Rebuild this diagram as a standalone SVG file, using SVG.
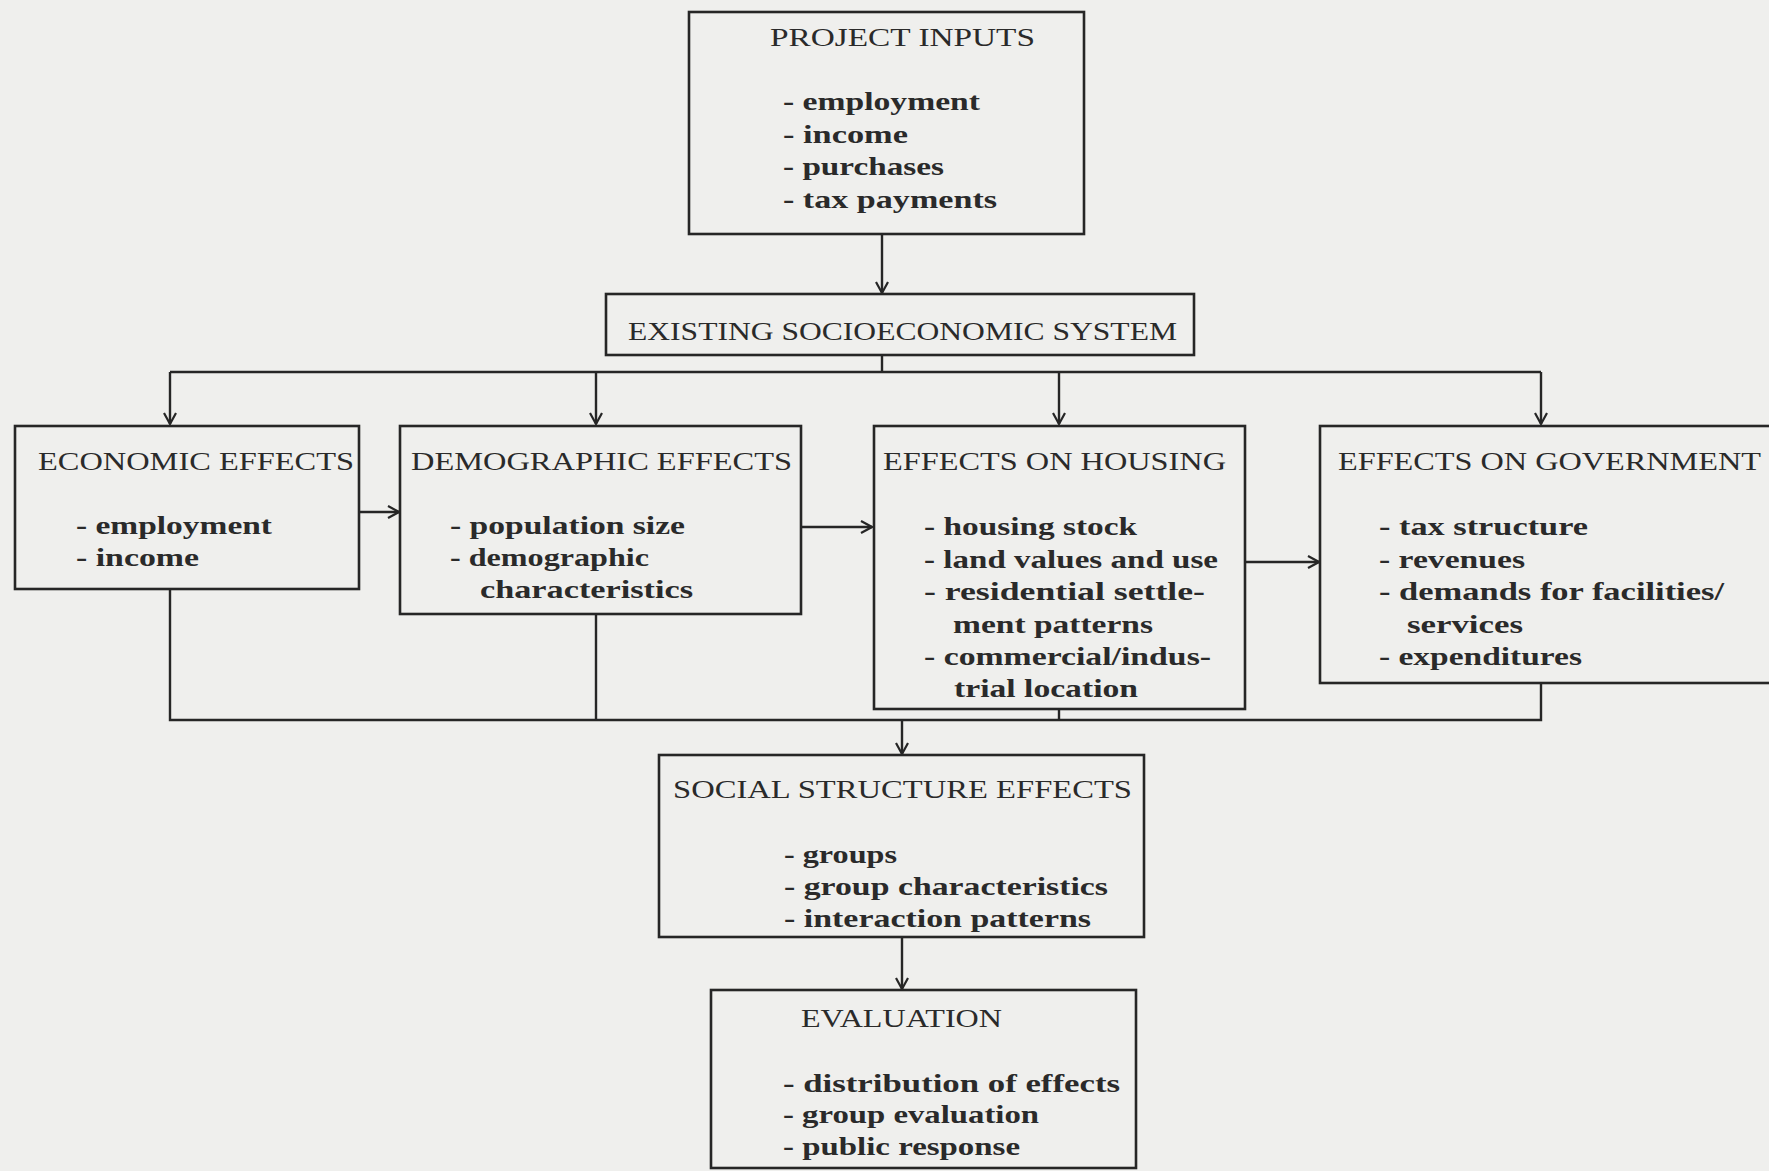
<svg xmlns="http://www.w3.org/2000/svg" width="1769" height="1171" viewBox="0 0 1769 1171">
<style>
  .bg{fill:#efefed}
  .box{fill:none;stroke:#262626;stroke-width:2.6}
  .ln{fill:none;stroke:#262626;stroke-width:2.4}
  .t{font-family:"Liberation Serif","Times New Roman",serif;font-size:26px;fill:#2a2a2a}
  .i{font-family:"Liberation Serif","Times New Roman",serif;font-size:25px;font-weight:bold;fill:#2a2a2a}
</style>
<defs>
  <marker id="arr" viewBox="0 0 14 14" refX="12" refY="7" markerWidth="14" markerHeight="14" markerUnits="userSpaceOnUse" orient="auto">
    <path d="M1,1 L12,7 L1,13" fill="none" stroke="#262626" stroke-width="2.2"/>
  </marker>
</defs>
<rect class="bg" x="0" y="0" width="1769" height="1171"/>

<g id="connectors">
  <line class="ln" x1="882" y1="234" x2="882" y2="293" marker-end="url(#arr)"/>
  <polyline class="ln" points="882,355 882,372"/>
  <polyline class="ln" points="170,372 1541,372"/>
  <line class="ln" x1="170" y1="372" x2="170" y2="424" marker-end="url(#arr)"/>
  <line class="ln" x1="596" y1="372" x2="596" y2="424" marker-end="url(#arr)"/>
  <line class="ln" x1="1059" y1="372" x2="1059" y2="424" marker-end="url(#arr)"/>
  <line class="ln" x1="1541" y1="372" x2="1541" y2="424" marker-end="url(#arr)"/>
  <line class="ln" x1="360" y1="512" x2="399" y2="512" marker-end="url(#arr)"/>
  <line class="ln" x1="801" y1="527" x2="872" y2="527" marker-end="url(#arr)"/>
  <line class="ln" x1="1245" y1="562" x2="1319" y2="562" marker-end="url(#arr)"/>
  <polyline class="ln" points="170,589 170,720 1541,720 1541,683"/>
  <line class="ln" x1="596" y1="614" x2="596" y2="720"/>
  <line class="ln" x1="1059" y1="709" x2="1059" y2="720"/>
  <line class="ln" x1="902" y1="720" x2="902" y2="754" marker-end="url(#arr)"/>
  <line class="ln" x1="902" y1="937" x2="902" y2="989" marker-end="url(#arr)"/>
</g>

<g id="project-inputs">
  <rect class="box" x="689" y="12" width="395" height="222"/>
  <text class="t" x="770" y="46" textLength="265" lengthAdjust="spacingAndGlyphs">PROJECT INPUTS</text>
  <text class="i" x="783" y="110" textLength="197" lengthAdjust="spacingAndGlyphs">- employment</text>
  <text class="i" x="783" y="143" textLength="125" lengthAdjust="spacingAndGlyphs">- income</text>
  <text class="i" x="783" y="175" textLength="161" lengthAdjust="spacingAndGlyphs">- purchases</text>
  <text class="i" x="783" y="208" textLength="214" lengthAdjust="spacingAndGlyphs">- tax payments</text>
</g>

<g id="existing-system">
  <rect class="box" x="606" y="294" width="588" height="61"/>
  <text class="t" x="628" y="340" textLength="549" lengthAdjust="spacingAndGlyphs">EXISTING SOCIOECONOMIC SYSTEM</text>
</g>

<g id="economic-effects">
  <rect class="box" x="15" y="426" width="344" height="163"/>
  <text class="t" x="38" y="470" textLength="316" lengthAdjust="spacingAndGlyphs">ECONOMIC EFFECTS</text>
  <text class="i" x="76" y="534" textLength="196" lengthAdjust="spacingAndGlyphs">- employment</text>
  <text class="i" x="76" y="566" textLength="123" lengthAdjust="spacingAndGlyphs">- income</text>
</g>

<g id="demographic-effects">
  <rect class="box" x="400" y="426" width="401" height="188"/>
  <text class="t" x="411" y="470" textLength="381" lengthAdjust="spacingAndGlyphs">DEMOGRAPHIC EFFECTS</text>
  <text class="i" x="450" y="534" textLength="235" lengthAdjust="spacingAndGlyphs">- population size</text>
  <text class="i" x="450" y="566" textLength="199" lengthAdjust="spacingAndGlyphs">- demographic</text>
  <text class="i" x="480" y="598" textLength="213" lengthAdjust="spacingAndGlyphs">characteristics</text>
</g>

<g id="effects-housing">
  <rect class="box" x="874" y="426" width="371" height="283"/>
  <text class="t" x="883" y="470" textLength="343" lengthAdjust="spacingAndGlyphs">EFFECTS ON HOUSING</text>
  <text class="i" x="924" y="535" textLength="213" lengthAdjust="spacingAndGlyphs">- housing stock</text>
  <text class="i" x="924" y="568" textLength="294" lengthAdjust="spacingAndGlyphs">- land values and use</text>
  <text class="i" x="924" y="600" textLength="281" lengthAdjust="spacingAndGlyphs">- residential settle-</text>
  <text class="i" x="953" y="633" textLength="200" lengthAdjust="spacingAndGlyphs">ment patterns</text>
  <text class="i" x="924" y="665" textLength="287" lengthAdjust="spacingAndGlyphs">- commercial/indus-</text>
  <text class="i" x="954" y="697" textLength="184" lengthAdjust="spacingAndGlyphs">trial location</text>
</g>

<g id="effects-government">
  <rect class="box" x="1320" y="426" width="470" height="257"/>
  <text class="t" x="1338" y="470" textLength="423" lengthAdjust="spacingAndGlyphs">EFFECTS ON GOVERNMENT</text>
  <text class="i" x="1379" y="535" textLength="209" lengthAdjust="spacingAndGlyphs">- tax structure</text>
  <text class="i" x="1379" y="568" textLength="146" lengthAdjust="spacingAndGlyphs">- revenues</text>
  <text class="i" x="1379" y="600" textLength="345" lengthAdjust="spacingAndGlyphs">- demands for facilities/</text>
  <text class="i" x="1407" y="633" textLength="116" lengthAdjust="spacingAndGlyphs">services</text>
  <text class="i" x="1379" y="665" textLength="203" lengthAdjust="spacingAndGlyphs">- expenditures</text>
</g>

<g id="social-structure">
  <rect class="box" x="659" y="755" width="485" height="182"/>
  <text class="t" x="673" y="798" textLength="459" lengthAdjust="spacingAndGlyphs">SOCIAL STRUCTURE EFFECTS</text>
  <text class="i" x="784" y="863" textLength="113" lengthAdjust="spacingAndGlyphs">- groups</text>
  <text class="i" x="784" y="895" textLength="324" lengthAdjust="spacingAndGlyphs">- group characteristics</text>
  <text class="i" x="784" y="927" textLength="307" lengthAdjust="spacingAndGlyphs">- interaction patterns</text>
</g>

<g id="evaluation">
  <rect class="box" x="711" y="990" width="425" height="178"/>
  <text class="t" x="801" y="1027" textLength="201" lengthAdjust="spacingAndGlyphs">EVALUATION</text>
  <text class="i" x="783" y="1092" textLength="337" lengthAdjust="spacingAndGlyphs">- distribution of effects</text>
  <text class="i" x="783" y="1123" textLength="256" lengthAdjust="spacingAndGlyphs">- group evaluation</text>
  <text class="i" x="783" y="1155" textLength="237" lengthAdjust="spacingAndGlyphs">- public response</text>
</g>
</svg>
